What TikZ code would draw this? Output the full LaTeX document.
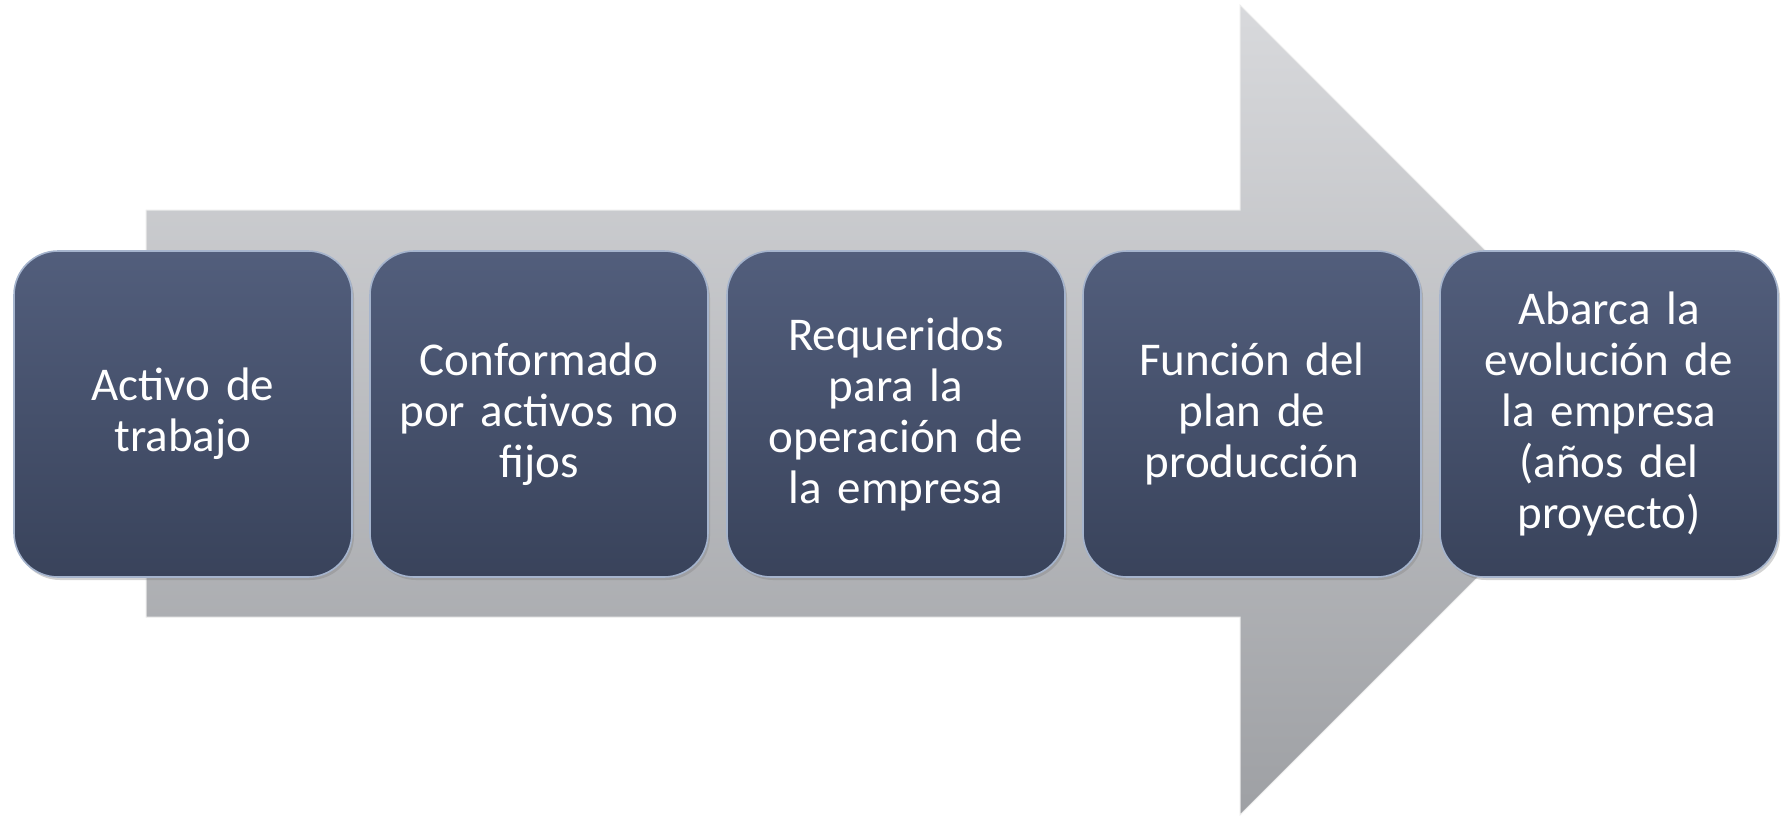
\documentclass[tikz,border=0pt]{standalone}
\usepackage{fontspec}
\setmainfont{Carlito}
\usetikzlibrary{shadows}
\definecolor{arrtop}{RGB}{216,217,220}
\definecolor{arrbot}{RGB}{158,160,164}
\definecolor{boxtop}{RGB}{82,94,124}
\definecolor{boxbot}{RGB}{57,67,91}
\definecolor{boxrim}{RGB}{165,180,205}
\tikzset{
  stepbox/.style={rounded corners=44pt, minimum width=338pt, minimum height=326pt,
    top color=boxtop, bottom color=boxbot, draw=boxrim, line width=1.6pt,
    text=white, align=center, text width=334pt, inner sep=0pt,
    font=\fontsize{47}{51}\selectfont,
    drop shadow={opacity=0.35, shadow xshift=2pt, shadow yshift=-3pt}},
  bigarrow/.style={top color=arrtop, bottom color=arrbot, draw=white!85!gray, line width=1pt}
}
\begin{document}
\begin{tikzpicture}[x=1pt,y=-1pt]
\useasboundingbox (0,0) rectangle (1791,820);
\path[bigarrow] (146,210) -- (1240,210) -- (1240,5) -- (1645,410) -- (1240,815) -- (1240,617) -- (146,617) -- cycle;
\node[stepbox] (b1) at (183,414) {Activo de\\trabajo};
\node[stepbox] (b2) at (539,414) {Conformado\\por activos no\\fijos};
\node[stepbox] (b3) at (896,414) {Requeridos\\para la\\operación de\\la empresa};
\node[stepbox] (b4) at (1252,414) {Función del\\plan de\\producción};
\node[stepbox] (b5) at (1609,414) {Abarca la\\evolución de\\la empresa\\(años del\\proyecto)};
\end{tikzpicture}
\end{document}
